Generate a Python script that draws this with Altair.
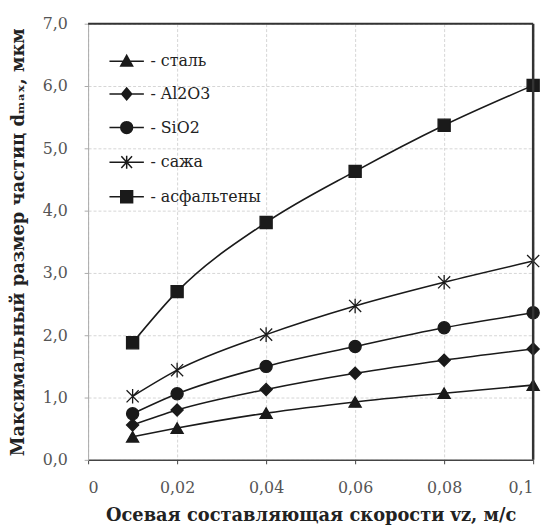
import altair as alt
import pandas as pd

# ---- data ----
x_vals = [0.01, 0.02, 0.04, 0.06, 0.08, 0.1]
series_names = ["сталь", "Al2O3", "SiO2", "сажа", "асфальтены"]
legend_labels = ["- сталь", "- Al2O3", "- SiO2", "- сажа", "- асфальтены"]
steel = [0.37, 0.51, 0.75, 0.93, 1.07, 1.20]
al2o3 = [0.56, 0.80, 1.13, 1.39, 1.60, 1.78]
sio2 = [0.74, 1.06, 1.50, 1.82, 2.12, 2.36]
soot = [1.02, 1.44, 2.01, 2.47, 2.85, 3.19]
asph = [1.88, 2.70, 3.81, 4.63, 5.37, 6.01]
x_ticks = [0, 0.02, 0.04, 0.06, 0.08, 0.1]
y_ticks = [0, 1, 2, 3, 4, 5, 6, 7]

rows = []
for name, lab, vals in zip(series_names, legend_labels, [steel, al2o3, sio2, soot, asph]):
    for xv, yv in zip(x_vals, vals):
        rows.append({"x": xv, "y": yv, "series": name, "label": lab})
df = pd.DataFrame(rows)

FONT = "DejaVu Serif"
INK = "#1a1a1a"

ASTER = "M-1,-1L1,1M-1,1L1,-1M0,-1.2L0,1.2"
plot_shapes = ["triangle-up", "diamond", "circle", ASTER, "square"]


# ---- legend glyphs: line segment + solid marker (filled by dense strokes) ----
def hatch(halfwidth, y0, y1, n=12):
    parts = []
    for i in range(n + 1):
        y = y0 + (y1 - y0) * i / n
        w = halfwidth(y)
        if w > 0.02:
            parts.append(f"M{-w:.3f},{y:.3f}H{w:.3f}")
    return "".join(parts)


TRI = "M0,-1L1,0.8L-1,0.8Z" + hatch(lambda y: (y + 1) / 1.8, -0.9, 0.8)
DIA = "M0,-1L0.85,0L0,1L-0.85,0Z" + hatch(lambda y: 0.85 * (1 - abs(y)), -0.9, 0.9)
CIR = "M1,0A1,1,0,1,1,-1,0A1,1,0,1,1,1,0Z" + hatch(
    lambda y: max(0.0, 1 - y * y) ** 0.5, -0.92, 0.92
)
SQR = "M-1,-1H1V1H-1Z" + hatch(lambda y: 1.0, -1, 1)
STAR = "M-0.9,-1L0.9,1M-0.9,1L0.9,-1M0,-1.1L0,1.1"
L = 2.9
LINE = f"M{-L},0H{L}"
legend_shapes = [LINE + TRI, LINE + DIA, LINE + CIR, LINE + STAR, LINE + SQR]

x_enc = alt.X(
    "x:Q",
    scale=alt.Scale(domain=[0, 0.1], nice=False, zero=False),
    axis=alt.Axis(
        values=x_ticks,
        labelExpr="replace(format(datum.value, '~r'), '.', ',')",
        title="Осевая составляющая скорости vz, м/с",
        grid=True,
        domainColor="#444",
        domainWidth=1.5,
        tickColor="#444",
        tickSize=4,
        labelPadding=16,
        titlePadding=11,
        labelFont=FONT,
    ),
)
y_enc = alt.Y(
    "y:Q",
    scale=alt.Scale(domain=[0, 7], nice=False),
    axis=alt.Axis(
        values=y_ticks,
        labelExpr="replace(format(datum.value, '.1f'), '.', ',')",
        title="Максимальный размер частиц dₘₐₓ, мкм",
        grid=True,
        domainColor="#aaa",
        domainWidth=1,
        tickColor="#aaa",
        tickSize=4,
        labelPadding=17,
        titlePadding=15,
        labelFont=FONT,
    ),
)

base = alt.Chart(df)

lines = base.mark_line(color=INK, strokeWidth=1.6, interpolate="monotone").encode(
    x=x_enc, y=y_enc, detail="series:N"
)

points = base.mark_point(
    fill=INK, stroke=INK, strokeWidth=1.3, opacity=1, size=150
).encode(
    x=x_enc,
    y=y_enc,
    shape=alt.Shape(
        "series:N",
        scale=alt.Scale(domain=series_names, range=plot_shapes),
        legend=None,
    ),
)

legend_layer = base.mark_point(
    filled=False, color=INK, opacity=0, size=144, strokeWidth=1.5
).encode(
    x=x_enc,
    y=y_enc,
    shape=alt.Shape(
        "label:N",
        scale=alt.Scale(domain=legend_labels, range=legend_shapes),
        legend=alt.Legend(
            orient="none",
            legendX=31,
            legendY=30,
            title=None,
            labelFont=FONT,
            labelFontSize=16,
            labelColor="#222",
            symbolSize=144,
            symbolOpacity=1,
            symbolStrokeWidth=1.5,
            labelOffset=16,
            rowPadding=16,
            padding=0,
        ),
    ),
)

top_rule = alt.Chart(pd.DataFrame({"y": [7]})).mark_rule(color="#333", strokeWidth=2).encode(y=y_enc)
right_rule = alt.Chart(pd.DataFrame({"x": [0.1]})).mark_rule(color="#333", strokeWidth=2.5).encode(x=x_enc)

chart = (
    alt.layer(lines, points, legend_layer, top_rule, right_rule)
    .resolve_scale(shape="independent")
    .properties(
        width=450,
        height=441,
        autosize=alt.AutoSizeParams(type="none"),
        padding={"left": 81, "top": 13, "right": 14, "bottom": 65},
    )
    .configure_view(stroke=None)
    .configure_legend(labelFont=FONT)
    .configure_axis(
        labelFont=FONT,
        labelFontSize=16,
        labelColor="#555",
        titleFont=FONT,
        titleFontSize=18,
        titleFontWeight="bold",
        titleColor="#222",
        gridColor="#d6d6d6",
        gridDash=[3, 2],
        gridWidth=1,
    )
)

chart.save("out.html", embed_options={"renderer": "svg", "actions": False})
